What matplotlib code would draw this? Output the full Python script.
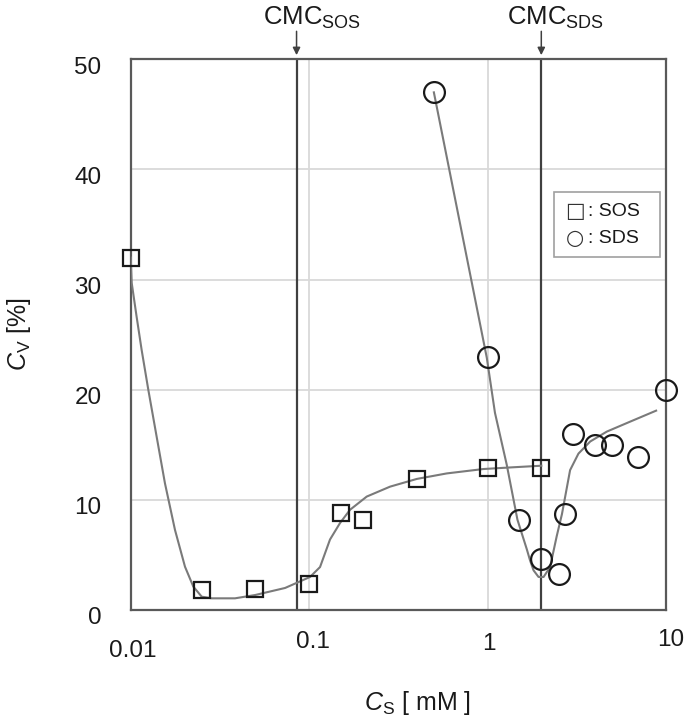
import numpy as np
import matplotlib
matplotlib.use("Agg")
import matplotlib.pyplot as plt
import matplotlib.transforms as mtransforms
from matplotlib.patches import Rectangle

plt.rcParams['font.family'] = ['Liberation Sans', 'DejaVu Sans']
plt.rcParams['mathtext.fontset'] = 'custom'
plt.rcParams['mathtext.rm'] = 'Liberation Sans'
plt.rcParams['mathtext.it'] = 'Liberation Sans:italic'
plt.rcParams['mathtext.bf'] = 'Liberation Sans:bold'

## measured points
sos_x = [0.01, 0.025, 0.05, 0.1, 0.15, 0.2, 0.4, 1, 2]
sos_y = [32.0, 1.8, 1.9, 2.4, 8.8, 8.2, 11.9, 12.9, 12.9]

sds_x = [0.5, 1, 1.5, 2, 2.5, 2.7, 3, 4, 5, 7, 10]
sds_y = [47.0, 23.0, 8.2, 4.6, 3.3, 8.7, 16.0, 15.0, 15.0, 13.9, 20.0]

## fitted curves
sos_fit_x = [0.01, 0.01013, 0.0108, 0.01152, 0.01255, 0.01399, 0.01556,
             0.01771, 0.02015, 0.02244, 0.025, 0.02844, 0.0384, 0.0498,
             0.0733, 0.1012, 0.1151, 0.1309, 0.149, 0.1695, 0.2103, 0.2841,
             0.401, 0.590, 0.947, 1.395, 2.0]
sos_fit_y = [32.0, 29.7, 26.6, 23.6, 20.0, 15.7, 11.5,
             7.27, 3.93, 2.12, 1.21, 1.06, 1.06, 1.36,
             2.0, 3.0, 3.9, 6.4, 7.9, 9.1, 10.3, 11.2,
             11.9, 12.4, 12.8, 12.96, 13.1]

sds_fit_x = [0.5, 0.99, 1.10, 1.28, 1.47, 1.66, 1.73, 1.81, 1.93, 2.06,
             2.24, 2.44, 2.61, 2.90, 3.23, 3.76, 4.66, 6.29, 8.8]
sds_fit_y = [47.0, 22.9, 17.9, 13.2, 8.2, 5.5, 4.5, 3.6, 3.0, 3.0,
             3.9, 6.7, 8.7, 12.7, 14.2, 15.3, 16.2, 17.1, 18.1]

cmc_vals = [0.085, 2.0]
cmc_labels = ['CMC$_{\\mathrm{SOS}}$', 'CMC$_{\\mathrm{SDS}}$']

x_ticks = [0.01, 0.1, 1, 10]
x_tick_labels = ['0.01', '0.1', '1', '10']
y_ticks = [0, 10, 20, 30, 40, 50]

legend_sym = ['\u25a1', '\u25cb']
legend_txt = [': SOS', ': SDS']

dark = '#404040'
txt = '#1a1a1a'

fig = plt.figure(figsize=(6.85, 7.19), dpi=100)
ax = fig.add_axes([0.1908, 0.1516, 0.7815, 0.7659])
ax.set_xscale('log')
ax.set_xlim(0.01, 10)
ax.set_ylim(0, 50)

ax.set_xticks(x_ticks)
ax.xaxis.set_minor_locator(matplotlib.ticker.NullLocator())
ax.set_xticklabels([])
ax.set_yticks(y_ticks)
ax.tick_params(length=0)
ax.tick_params(axis='y', pad=21, labelsize=17.5, labelcolor=txt)
ax.grid(True, color='#d9d9d9', lw=1.3)
ax.set_axisbelow(True)

for s in ax.spines.values():
    s.set_color('#595959')
    s.set_linewidth(1.6)

# shift y tick labels a touch down, like the original
off = mtransforms.ScaledTranslation(0, -6 / 100, fig.dpi_scale_trans)
for lab in ax.get_yticklabels():
    lab.set_transform(lab.get_transform() + off)

# x tick labels (staggered as in the original)
xlab_dx = [2, 4, 1, 5]
xlab_dy = [-41, -32, -34, -30]
blend = mtransforms.blended_transform_factory(ax.transData, ax.transAxes)
for v, s, dx, dy in zip(x_ticks, x_tick_labels, xlab_dx, xlab_dy):
    ax.annotate(s, xy=(v, 0), xycoords=blend, xytext=(dx, dy),
                textcoords='offset pixels', ha='center', va='center',
                fontsize=17.5, color=txt, annotation_clip=False)

# CMC lines + arrows
for c, lab in zip(cmc_vals, cmc_labels):
    ax.axvline(c, color=dark, lw=1.6, zorder=2)
    ax.annotate('', xy=(c, 1), xycoords=blend, xytext=(0, 28),
                textcoords='offset pixels', annotation_clip=False,
                arrowprops=dict(arrowstyle='-|>', color=dark, lw=1.1,
                                mutation_scale=11, shrinkA=0, shrinkB=3))
    ax.annotate(lab, xy=(c, 1), xycoords=blend, xytext=(-34, 35),
                textcoords='offset pixels', ha='left', va='baseline',
                fontsize=18.5, color=txt, annotation_clip=False)

# fit curves
ax.plot(sos_fit_x, sos_fit_y, color='#7a7a7a', lw=1.5, zorder=3)
ax.plot(sds_fit_x, sds_fit_y, color='#7a7a7a', lw=1.5, zorder=3)

# data points
ax.plot(sos_x, sos_y, 's', ms=12, mfc='none', mec=txt, mew=1.6,
        clip_on=False, zorder=4)
ax.plot(sds_x, sds_y, 'o', ms=15, mfc='none', mec=txt, mew=1.6,
        clip_on=False, zorder=4)

# legend box drawn with text symbols
ax.add_patch(Rectangle((0.790, 0.641), 0.198, 0.118, transform=ax.transAxes,
                       fill=False, ec='#a0a0a0', lw=1.2, zorder=5))
for yy, sym, t in zip([0.7245, 0.6755], legend_sym, legend_txt):
    ax.text(0.812, yy, sym, transform=ax.transAxes, fontsize=15,
            family=['DejaVu Sans'], va='center', ha='left', color='#333333',
            zorder=6)
    ax.text(0.855, yy, t, transform=ax.transAxes, fontsize=14,
            va='center', ha='left', color=txt, zorder=6)

ax.set_ylabel('$C_{\\mathrm{V}}$ [%]', fontsize=18, color=txt, va='center')
ax.yaxis.set_label_coords(-0.2087, 0.5)
ax.set_xlabel('$C_{\\mathrm{S}}$ [ mM ]', fontsize=18, color=txt, va='center')
ax.xaxis.set_label_coords(0.535, -0.168)

plt.savefig('out.png', dpi=100)
